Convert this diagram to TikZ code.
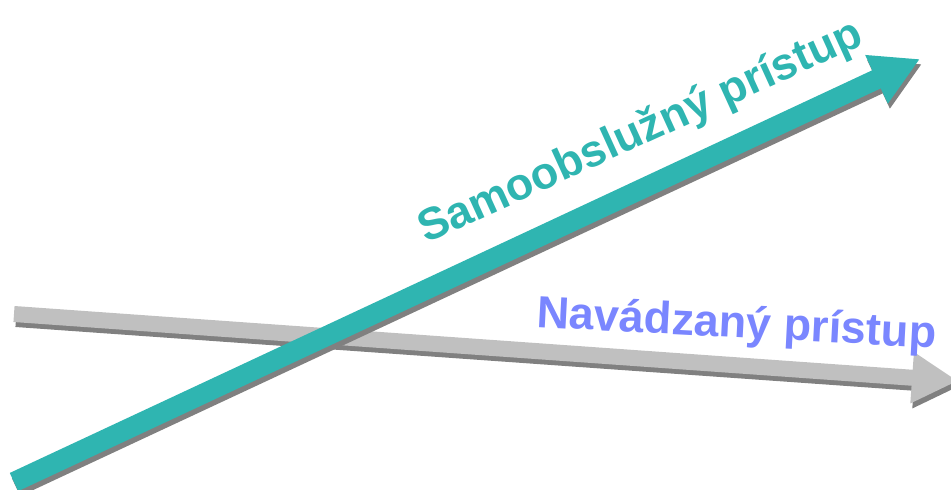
\documentclass[tikz,border=0pt]{standalone}
\usepackage{fontspec}
\setmainfont{Liberation Sans}
\usetikzlibrary{arrows.meta}
\definecolor{tealarr}{RGB}{47,181,177}
\definecolor{greyarr}{RGB}{192,192,192}
\definecolor{shadegrey}{RGB}{128,128,128}
\definecolor{navblue}{RGB}{122,134,255}
\begin{document}
\begin{tikzpicture}[x=1pt,y=-1pt,sa/.style={color=tealarr,line width=20pt,-{Triangle[length=48pt,width=50pt]}},
		na/.style={color=greyarr,line width=16pt,-{Triangle[length=46pt,width=48pt]}},
		sh/.style={color=shadegrey,transform canvas={xshift=2pt,yshift=-5pt}},
		lbl/.style={font=\fontsize{45}{50}\selectfont\bfseries,inner sep=0pt}]
		\useasboundingbox (0,0) rectangle (951,490);
		\coordinate (n0) at (14,314);
		\coordinate (n1) at (958,381);
		\coordinate (s0) at (14,482);
		\coordinate (s1) at (920,59);
		% guided approach
		\draw[na,sh] (n0) -- (n1);
		\draw[na] (n0) -- (n1);
		% self-service approach
		\draw[sa,sh] (s0) -- (s1);
		\draw[sa] (s0) -- (s1);
		\node[lbl,text=tealarr,rotate=24.5,anchor=base west] (sam) at (426,244) {Samoobslužný prístup};
		\node[lbl,text=navblue,rotate=-3,anchor=base west] (nav) at (536,327) {Navádzaný prístup};
	\end{tikzpicture}
\end{document}
